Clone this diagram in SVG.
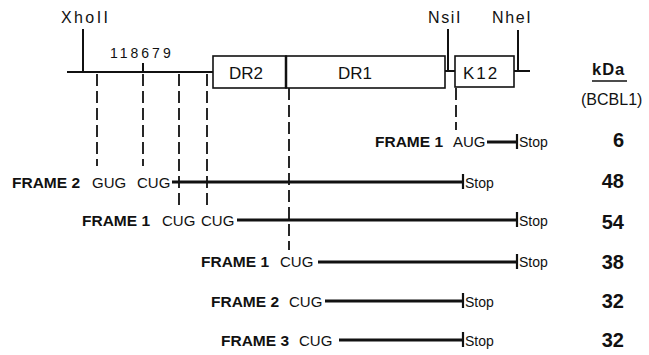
<svg xmlns="http://www.w3.org/2000/svg" width="649" height="355" viewBox="0 0 649 355">
<style>
text{font-family:"Liberation Sans",Arial,sans-serif;fill:#111}
.site{font-size:16px;letter-spacing:1.6px}
.box{fill:#fff;stroke:#111;stroke-width:1.6}
.bl{font-size:17px}
.fr{font-size:15.5px;font-weight:bold}
.cod{font-size:15px}
.stop{font-size:14px}
.kd{font-size:20px;font-weight:bold;text-anchor:end}
.orf{stroke:#111;stroke-width:3;fill:none}
.tick{stroke:#111;stroke-width:2.2;fill:none}
.dash{stroke:#111;stroke-width:1.8;stroke-dasharray:12 5;fill:none}
.ln{stroke:#111;stroke-width:2;fill:none}
</style>
<g id="map">
<line class="ln" x1="67" y1="72" x2="213" y2="72"/>
<line class="ln" x1="83" y1="29" x2="83" y2="72"/>
<line class="ln" x1="143" y1="63" x2="143" y2="72"/>
<text class="site" x="61" y="23" style="letter-spacing:2.4px">XhoII</text>
<text x="110" y="58" style="font-size:14px;letter-spacing:3px">118679</text>
<line class="ln" x1="445" y1="71" x2="455" y2="71"/>
<line class="ln" x1="448" y1="29" x2="448" y2="71"/>
<text class="site" x="428" y="23">NsiI</text>
<line class="ln" x1="514" y1="71" x2="530" y2="71"/>
<line class="ln" x1="518" y1="30" x2="518" y2="71"/>
<text class="site" x="492" y="23">NheI</text>
</g>
<g id="DR2"><rect class="box" x="213" y="56" width="73" height="32"/><text class="bl" x="229" y="79">DR2</text></g>
<g id="DR1"><rect class="box" x="286" y="56" width="159" height="32"/><line x1="286" y1="56" x2="286" y2="88" stroke="#111" stroke-width="2.5"/><text class="bl" x="338" y="79">DR1</text></g>
<g id="K12"><rect class="box" x="455" y="56" width="59" height="31"/><text class="bl" x="463" y="79" style="letter-spacing:2px">K12</text></g>
<g id="kda">
<text x="592" y="75" style="font-size:16.5px;font-weight:bold;letter-spacing:1px">kDa</text>
<line x1="592" y1="81" x2="627" y2="81" stroke="#111" stroke-width="1.6"/>
<text x="581" y="105" style="font-size:16px">(BCBL1)</text>
</g>
<g id="connectors">
<line class="dash" x1="97" y1="74" x2="97" y2="166"/>
<line class="dash" x1="143" y1="74" x2="143" y2="166"/>
<line class="dash" x1="179" y1="74" x2="179" y2="210"/>
<line class="dash" x1="207" y1="74" x2="207" y2="210"/>
<line class="dash" x1="289" y1="88" x2="289" y2="250"/>
<line class="dash" x1="456" y1="88" x2="456" y2="130"/>
</g>
<g id="row1">
<text class="fr" x="375" y="147">FRAME 1</text><text class="cod" x="453" y="147">AUG</text>
<line class="orf" x1="487" y1="142" x2="517" y2="142"/><line class="tick" x1="517" y1="134" x2="517" y2="149"/>
<text class="stop" x="519" y="147">Stop</text><text class="kd" x="624" y="147">6</text>
</g>
<g id="row2">
<text class="fr" x="12" y="188">FRAME 2</text><text class="cod" x="92" y="188">GUG</text><text class="cod" x="137" y="188">CUG</text>
<line class="orf" x1="172" y1="182" x2="463" y2="182"/><line class="tick" x1="463" y1="174" x2="463" y2="189"/>
<text class="stop" x="465" y="188">Stop</text><text class="kd" x="624" y="188">48</text>
</g>
<g id="row3">
<text class="fr" x="82" y="226">FRAME 1</text><text class="cod" x="162" y="226">CUG</text><text class="cod" x="201" y="226">CUG</text>
<line class="orf" x1="237" y1="220" x2="517" y2="220"/><line class="tick" x1="517" y1="212" x2="517" y2="227"/>
<text class="stop" x="519" y="226">Stop</text><text class="kd" x="624" y="229">54</text>
</g>
<g id="row4">
<text class="fr" x="201" y="267">FRAME 1</text><text class="cod" x="280" y="267">CUG</text>
<line class="orf" x1="318" y1="262" x2="517" y2="262"/><line class="tick" x1="517" y1="254" x2="517" y2="269"/>
<text class="stop" x="519" y="267">Stop</text><text class="kd" x="624" y="269">38</text>
</g>
<g id="row5">
<text class="fr" x="211" y="307">FRAME 2</text><text class="cod" x="289" y="307">CUG</text>
<line class="orf" x1="325" y1="301" x2="463" y2="301"/><line class="tick" x1="463" y1="293" x2="463" y2="308"/>
<text class="stop" x="465" y="307">Stop</text><text class="kd" x="624" y="308">32</text>
</g>
<g id="row6">
<text class="fr" x="221" y="346">FRAME 3</text><text class="cod" x="299" y="346">CUG</text>
<line class="orf" x1="339" y1="340" x2="463" y2="340"/><line class="tick" x1="463" y1="332" x2="463" y2="347"/>
<text class="stop" x="465" y="346">Stop</text><text class="kd" x="624" y="347">32</text>
</g>
</svg>
